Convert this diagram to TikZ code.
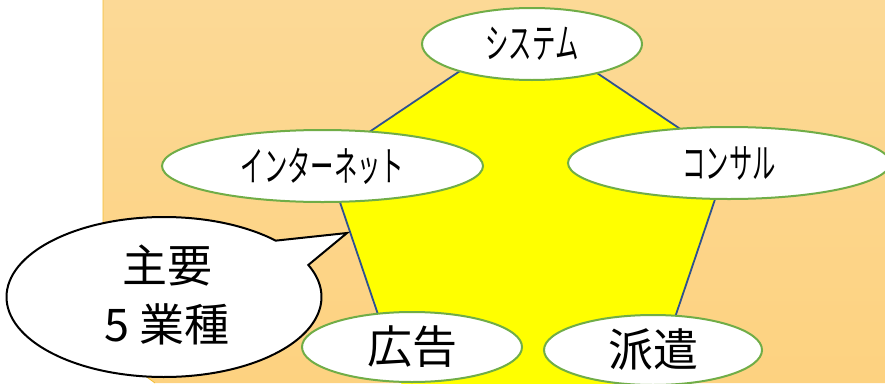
\documentclass[tikz,border=0pt]{standalone}
\usepackage{fontspec}
\usetikzlibrary{shapes.geometric,calc}
\newfontfamily\jp{Noto Sans CJK JP}
\newfontfamily\jpkana[FakeStretch=0.57]{Noto Sans CJK JP}
\definecolor{bgtop}{RGB}{252,217,150}
\definecolor{bgbot}{RGB}{253,210,128}
\definecolor{bgedge}{RGB}{242,188,50}
\definecolor{egreen}{RGB}{112,173,71}
\definecolor{pblue}{RGB}{47,82,143}
\definecolor{pyellow}{RGB}{255,255,0}
\begin{document}
\begin{tikzpicture}[x=1pt,y=-1pt,
  ell/.style={ellipse, draw=egreen, line width=2pt, fill=white, inner sep=0pt},
  kana/.style={font=\jpkana\fontsize{41}{44}\selectfont},
  kanji/.style={font=\jp\fontsize{45}{59}\selectfont},
  edge/.style={draw=pblue, line width=1.8pt, line join=miter}]
\useasboundingbox (0,0) rectangle (885,383);
\fill[white] (0,0) rectangle (885,383);
% background panel
\shade[top color=bgtop, bottom color=bgbot]
  (103,0) -- (885,0) -- (885,383) -- (155,383) -- (103,345) -- cycle;
\draw[bgedge, line width=0.8pt] (103,0) -- (103,345) -- (155,383);
% pentagon
\coordinate (pt) at (527,26);
\coordinate (pl) at (326,161);
\coordinate (pr) at (728,161);
\coordinate (pbr) at (647,400);
\coordinate (pbl) at (407,400);
\fill[pyellow] (pt) -- (pr) -- (pbr) -- (pbl) -- (pl) -- cycle;
\coordinate (el) at ($(pl)!0.83!(pbl)$);
\coordinate (er) at ($(pr)!0.83!(pbr)$);
\path[edge] (el) -- (pl) -- (pt) -- (pr) -- (er);
% ellipses
\node[ell, kana, minimum width=220pt, minimum height=72pt] (sys) at (532,44) {システム};
\node[ell, kana, minimum width=321pt, minimum height=72pt] (net) at (322.5,166) {インターネット};
\node[ell, kana, minimum width=322pt, minimum height=72pt] (con) at (729,163) {コンサル};
\node[ell, kanji, minimum width=220pt, minimum height=70pt] (ad) at (412,347) {広告};
\node[ell, kanji, minimum width=218pt, minimum height=70pt] (haken) at (653,350) {派遣};
% callout bubble
\coordinate (bc) at (164,297);
\coordinate (tip) at (347,233);
\filldraw[fill=white, draw=black, line width=2pt, line join=miter]
  ($(bc)+(44.8:157.5pt and 80pt)$)
  arc[start angle=44.8, end angle=383.6, x radius=157.5pt, y radius=80pt]
  -- (tip) -- cycle;
\node[kanji, align=center] (bubtext) at (167,295) {主要\\5 業種};
\end{tikzpicture}
\end{document}
